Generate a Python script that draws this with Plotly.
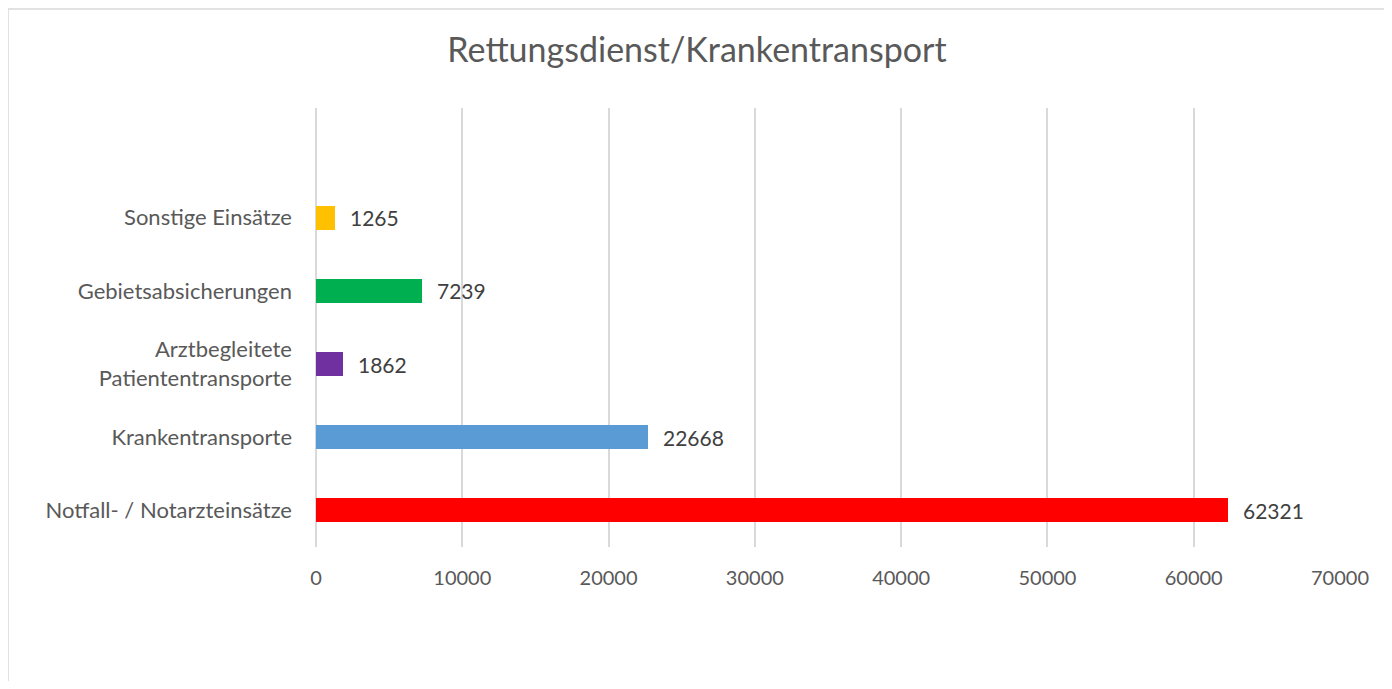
import plotly.graph_objects as go

categories = ["Notfall- / Notarzteinsätze", "Krankentransporte",
              "Arztbegleitete<br>Patiententransporte", "Gebietsabsicherungen",
              "Sonstige Einsätze"]
values = [62321, 22668, 1862, 7239, 1265]
colors = ["#FF0000", "#5B9BD5", "#7030A0", "#00B050", "#FFC000"]
x_ticks = [0, 10000, 20000, 30000, 40000, 50000, 60000, 70000]

# page body has an 8px default margin; shift everything by -8
OFF = 8
W, H = 1384, 673
L, T = 316 - OFF, 108 - OFF
R = W - (1340 - OFF)
B = H - (547 - OFF)
pw, ph = W - L - R, H - T - B

ypos = list(range(len(categories)))
font_fam = "Lato, Open Sans, sans-serif"

fig = go.Figure()
fig.add_trace(go.Bar(
    x=values, y=ypos, orientation="h", width=0.33,
    marker=dict(color=colors, line=dict(width=0)),
    hoverinfo="skip",
))

for v, y in zip(values, ypos):
    fig.add_annotation(x=v, y=y, text=str(v), showarrow=False,
                       xanchor="left", yanchor="middle", xshift=13,
                       font=dict(family=font_fam, size=21, color="#404040"))

fig.update_layout(
    width=W, height=H,
    margin=dict(l=L, r=R, t=T, b=B),
    paper_bgcolor="white", plot_bgcolor="white",
    showlegend=False,
    title=dict(text="Rettungsdienst/Krankentransport", x=(697 - OFF) / W, xref="container",
               xanchor="center", y=1 - (50 - OFF) / H, yanchor="middle", yref="container",
               font=dict(family=font_fam, size=34, color="#595959")),
    bargap=0,
)

fig.update_xaxes(range=[0, 70000], tickvals=x_ticks, ticktext=[str(t) for t in x_ticks],
                 showgrid=True, gridcolor="#D9D9D9", gridwidth=1.5,
                 zeroline=True, zerolinecolor="#D9D9D9", zerolinewidth=1.5,
                 showline=False, ticks="", ticklabelstandoff=17,
                 tickfont=dict(family=font_fam, size=20, color="#595959"), fixedrange=True)
fig.update_yaxes(range=[-0.5, 5.5], tickvals=ypos, ticktext=categories,
                 showgrid=False, zeroline=False, showline=False, ticks="",
                 ticklabelstandoff=23,
                 tickfont=dict(family=font_fam, size=22, color="#595959"), fixedrange=True)

# outer chart border (page coords 7..1386 x, 6..bottom y)
bx0, bx1 = 7 - OFF + 1, min(1386 - OFF, W - 1)
by0, by1 = 6 - OFF + 0, H + 20
fig.add_shape(type="rect", xref="paper", yref="paper",
              x0=(bx0 - L) / pw, x1=(bx1 - L) / pw,
              y0=(T + ph - by1) / ph, y1=(T + ph - max(by0, 1)) / ph,
              line=dict(color="#D9D9D9", width=1.5), fillcolor="rgba(0,0,0,0)", layer="below")

fig.write_html("out.html")
